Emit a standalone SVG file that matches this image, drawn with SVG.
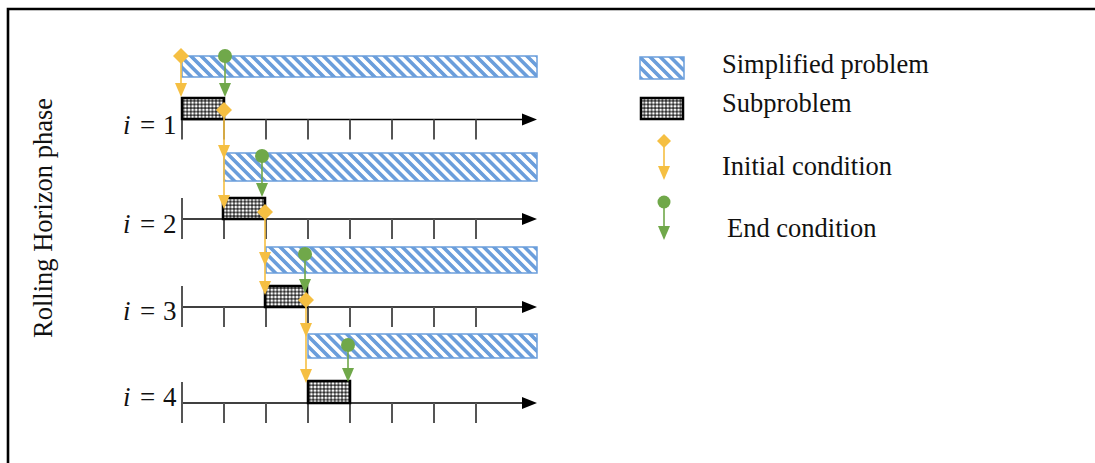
<svg xmlns="http://www.w3.org/2000/svg" xmlns:xlink="http://www.w3.org/1999/xlink" width="1095" height="463" viewBox="0 0 1095 463">
  <style>
    .txt { font-family: "Liberation Serif", "Times New Roman", serif; font-size: 26.5px; fill: #111; }
    .math { font-family: "Liberation Serif", "Times New Roman", serif; font-size: 27px; fill: #111; }
    .axis { stroke: #000; stroke-width: 1.5; fill: none; }
    .tick { stroke: #555; stroke-width: 2; }
    .simp { fill: url(#hatch); stroke: #6b9edb; stroke-width: 1.5; }
    .sub { fill: url(#dots); stroke: #000; stroke-width: 2.5; }
    .yl { stroke: #f5bf42; stroke-width: 1.6; fill: none; }
    .gl { stroke: #70a84a; stroke-width: 1.6; fill: none; }
    .yf { fill: #f5bf42; }
    .gf { fill: #70a84a; }
  </style>
  <defs>
    <pattern id="hatch" width="7.2" height="7.2" patternUnits="userSpaceOnUse" patternTransform="rotate(-45)">
      <rect width="7.2" height="7.2" fill="#fff"/>
      <rect width="3.6" height="7.2" fill="#6b9edb"/>
    </pattern>
    <pattern id="dots" width="3.6" height="3.6" patternUnits="userSpaceOnUse">
      <rect width="3.6" height="3.6" fill="#2a2a2a"/>
      <circle cx="1.8" cy="1.8" r="1.4" fill="#fff"/>
    </pattern>
    <!-- downward arrowhead, tip at origin -->
    <polygon id="head" points="-6,-14 6,-14 0,0"/>
    <polygon id="diamond" points="0,-8 8,0 0,8 -8,0"/>
    <polygon id="diamond-s" points="0,-7 7,0 0,7 -7,0"/>
    <!-- time axis with ticks -->
    <g id="timeline">
      <line class="axis" x1="182" y1="0" x2="526" y2="0"/>
      <polygon points="522,-6 537,0 522,6" fill="#000"/>
      <line class="tick" x1="182" y1="-21" x2="182" y2="20"/>
      <line class="tick" x1="224" y1="0" x2="224" y2="20"/>
      <line class="tick" x1="266" y1="0" x2="266" y2="20"/>
      <line class="tick" x1="308" y1="0" x2="308" y2="20"/>
      <line class="tick" x1="350" y1="0" x2="350" y2="20"/>
      <line class="tick" x1="392" y1="0" x2="392" y2="20"/>
      <line class="tick" x1="434" y1="0" x2="434" y2="20"/>
      <line class="tick" x1="476" y1="0" x2="476" y2="20"/>
    </g>
  </defs>

  <rect width="1095" height="463" fill="#fff"/>
  <!-- frame -->
  <path d="M8,463 V9 H1095" fill="none" stroke="#000" stroke-width="2.6"/>

  <!-- vertical title -->
  <text class="txt" transform="translate(52,218) rotate(-90)" text-anchor="middle" font-size="27">Rolling Horizon phase</text>

  <!-- iteration 1 -->
  <g id="iter1">
    <use xlink:href="#timeline" y="119.5"/>
    <text class="math" y="134"><tspan x="123" font-style="italic">i</tspan><tspan x="140">=</tspan><tspan x="163">1</tspan></text>
    <rect class="simp" x="182" y="56" width="355" height="21"/>
    <rect class="sub" x="182" y="98" width="42" height="21"/>
  </g>

  <!-- iteration 2 -->
  <g id="iter2">
    <use xlink:href="#timeline" y="219"/>
    <text class="math" y="233"><tspan x="123" font-style="italic">i</tspan><tspan x="140">=</tspan><tspan x="163">2</tspan></text>
    <rect class="simp" x="224" y="153" width="313" height="28"/>
    <rect class="sub" x="223" y="198" width="42" height="21"/>
  </g>

  <!-- iteration 3 -->
  <g id="iter3">
    <use xlink:href="#timeline" y="307"/>
    <text class="math" y="320"><tspan x="123" font-style="italic">i</tspan><tspan x="140">=</tspan><tspan x="163">3</tspan></text>
    <rect class="simp" x="266" y="247" width="271" height="26"/>
    <rect class="sub" x="265" y="286" width="42" height="21"/>
  </g>

  <!-- iteration 4 -->
  <g id="iter4">
    <use xlink:href="#timeline" y="403"/>
    <text class="math" y="406"><tspan x="123" font-style="italic">i</tspan><tspan x="140">=</tspan><tspan x="163">4</tspan></text>
    <rect class="simp" x="308" y="334" width="229" height="24"/>
    <rect class="sub" x="308" y="381" width="42" height="22"/>
  </g>

  <!-- boundary conditions passed between iterations -->
  <g id="connectors">
    <!-- initial conditions (yellow) -->
    <line class="yl" x1="181" y1="56" x2="181" y2="92"/>
    <use xlink:href="#diamond" class="yf" x="181" y="56"/>
    <use xlink:href="#head" class="yf" x="181" y="97"/>

    <line class="yl" x1="224" y1="110" x2="224" y2="204"/>
    <use xlink:href="#head" class="yf" x="224" y="159"/>
    <use xlink:href="#head" class="yf" x="224" y="209"/>
    <use xlink:href="#diamond" class="yf" x="224" y="110"/>

    <line class="yl" x1="265" y1="212" x2="265" y2="290"/>
    <use xlink:href="#head" class="yf" x="265" y="266"/>
    <use xlink:href="#head" class="yf" x="265" y="295"/>
    <use xlink:href="#diamond" class="yf" x="265" y="212"/>

    <line class="yl" x1="306" y1="300" x2="306" y2="378"/>
    <use xlink:href="#head" class="yf" x="306" y="337"/>
    <use xlink:href="#head" class="yf" x="306" y="383"/>

    <!-- end conditions (green) -->
    <line class="gl" x1="225" y1="56" x2="225" y2="90"/>
    <circle class="gf" cx="225" cy="56" r="7"/>
    <use xlink:href="#head" class="gf" x="225" y="97"/>

    <line class="gl" x1="262" y1="156" x2="262" y2="190"/>
    <circle class="gf" cx="262" cy="156" r="7"/>
    <use xlink:href="#head" class="gf" x="262" y="197"/>

    <line class="gl" x1="305" y1="254" x2="305" y2="287"/>
    <circle class="gf" cx="305" cy="254" r="7"/>
    <use xlink:href="#head" class="gf" x="305" y="293"/>

    <use xlink:href="#diamond" class="yf" x="306" y="300"/>

    <line class="gl" x1="348" y1="345" x2="348" y2="376"/>
    <circle class="gf" cx="348" cy="345" r="7"/>
    <use xlink:href="#head" class="gf" x="348" y="382"/>
  </g>

  <!-- legend -->
  <g id="legend-simplified">
    <rect class="simp" x="640" y="57" width="44" height="22"/>
    <text class="txt" x="722" y="73">Simplified problem</text>
  </g>
  <g id="legend-subproblem">
    <rect class="sub" x="641" y="98" width="42" height="21"/>
    <text class="txt" x="722" y="112">Subproblem</text>
  </g>
  <g id="legend-initial">
    <line class="yl" x1="664" y1="141" x2="664" y2="172"/>
    <use xlink:href="#diamond-s" class="yf" x="664" y="141"/>
    <use xlink:href="#head" class="yf" x="664" y="180"/>
    <text class="txt" x="722" y="175">Initial condition</text>
  </g>
  <g id="legend-end">
    <line class="gl" x1="664" y1="202" x2="664" y2="232"/>
    <circle class="gf" cx="664" cy="202" r="6.5"/>
    <use xlink:href="#head" class="gf" x="664" y="240"/>
    <text class="txt" x="727" y="237">End condition</text>
  </g>
</svg>
